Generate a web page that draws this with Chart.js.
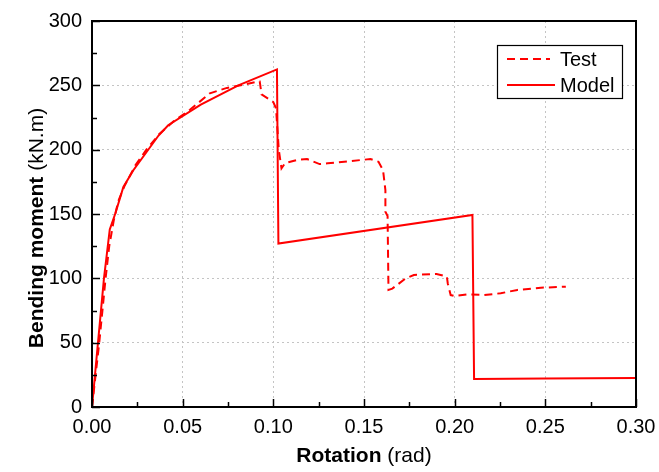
<!DOCTYPE html>
<html>
<head>
<meta charset="utf-8">
<script src="https://cdn.jsdelivr.net/npm/chart.js@4/dist/chart.umd.min.js"></script>
<style>
  html, body { margin: 0; padding: 0; background: #fff; }
  #wrap { width: 659px; height: 472px; }
</style>
</head>
<body>
<div id="wrap"><canvas id="chart" width="659" height="472"></canvas></div>
<script>
// Test curve (dashed)
const testRotation = [0, 0.004, 0.0075, 0.0095, 0.012, 0.0145, 0.018, 0.024, 0.03, 0.037, 0.045, 0.054, 0.065, 0.0744, 0.082, 0.091, 0.0925, 0.0935, 0.1, 0.1015, 0.103, 0.1045, 0.1065, 0.113, 0.1186, 0.1255, 0.13, 0.1536, 0.158, 0.1605, 0.1618, 0.1618, 0.163, 0.1635, 0.1656, 0.173, 0.1775, 0.19, 0.1957, 0.1962, 0.1978, 0.2, 0.207, 0.216, 0.2254, 0.2346, 0.2475, 0.2613];
const testMoment = [0, 50, 100, 125, 145, 160, 172, 188, 200, 212, 222, 231, 243.8, 248, 250, 252.8, 253, 243, 237, 232, 200, 185.5, 189.5, 192, 192.7, 188.8, 189.4, 192.7, 190.6, 184, 168.6, 151.8, 148.4, 91, 92, 100, 102.6, 103.4, 101.3, 96, 87, 86.3, 87.6, 87, 88.4, 91, 92.7, 93.5];

// Model curve (solid)
const modelRotation = [0, 0.0033, 0.0066, 0.0098, 0.013, 0.0173, 0.0228, 0.03, 0.0367, 0.042, 0.06, 0.0807, 0.102, 0.1028, 0.2098, 0.2107, 0.25, 0.30];
const modelMoment = [0, 50, 100, 138, 151, 171, 184, 198, 211, 219, 235, 250, 262.4, 127, 149.2, 21.7, 22.2, 22.5];

const seriesLabels = ['Test', 'Model'];
const xTitle = ['Rotation', '(rad)'];
const yTitle = ['Bending moment', '(kN.m)'];

const FONT = '"Liberation Sans", Arial, sans-serif';

function toPoints(xs, ys) {
    return xs.map((x, i) => ({ x: x, y: ys[i] }));
}

// Frame, inward ticks, mixed-weight axis titles and the boxed legend
const decorations = {
    id: 'decorations',
    afterDatasetsDraw(chart) {
        const ctx = chart.ctx;
        const area = chart.chartArea;
        const xs = chart.scales.x;
        const ys = chart.scales.y;

        ctx.save();
        ctx.strokeStyle = '#000';

        // ticks (major + minor), pointing inward
        ctx.lineWidth = 1.5;
        for (let v = 0; v <= 0.3001; v += 0.025) {
            const px = Math.round(xs.getPixelForValue(v)) + 0.5;
            const major = Math.abs(v / 0.05 - Math.round(v / 0.05)) < 1e-6;
            ctx.beginPath();
            ctx.moveTo(px, area.bottom);
            ctx.lineTo(px, area.bottom - (major ? 8 : 5));
            ctx.stroke();
        }
        for (let v = 0; v <= 300; v += 25) {
            const py = Math.round(ys.getPixelForValue(v)) + 0.5;
            const major = v % 50 === 0;
            ctx.beginPath();
            ctx.moveTo(area.left, py);
            ctx.lineTo(area.left + (major ? 8 : 5), py);
            ctx.stroke();
        }

        // frame
        ctx.lineWidth = 2;
        ctx.strokeRect(area.left, area.top, area.right - area.left, area.bottom - area.top);

        // axis titles
        ctx.fillStyle = '#000';
        ctx.textBaseline = 'alphabetic';
        function mixed(parts, cx, cy, rotate) {
            ctx.save();
            ctx.translate(cx, cy);
            if (rotate) ctx.rotate(-Math.PI / 2);
            ctx.font = 'bold 21px ' + FONT;
            const w1 = ctx.measureText(parts[0] + ' ').width;
            ctx.font = '21px ' + FONT;
            const w2 = ctx.measureText(parts[1]).width;
            let start = -(w1 + w2) / 2;
            ctx.textAlign = 'left';
            ctx.font = 'bold 21px ' + FONT;
            ctx.fillText(parts[0] + ' ', start, 0);
            ctx.font = '21px ' + FONT;
            ctx.fillText(parts[1], start + w1, 0);
            ctx.restore();
        }
        mixed(xTitle, 364, 462, false);
        mixed(yTitle, 43, 228, true);

        // legend
        ctx.fillStyle = '#fff';
        ctx.fillRect(497, 45, 126, 53);
        ctx.lineWidth = 1.2;
        ctx.strokeStyle = '#000';
        ctx.strokeRect(497.5, 45.5, 125, 53);
        const rows = [59, 85];
        chart.data.datasets.forEach((ds, i) => {
            ctx.strokeStyle = ds.borderColor;
            ctx.lineWidth = ds.borderWidth;
            ctx.setLineDash(ds.borderDash || []);
            ctx.beginPath();
            ctx.moveTo(507, rows[i]);
            ctx.lineTo(ds.borderDash ? 550 : 555, rows[i]);
            ctx.stroke();
            ctx.setLineDash([]);
            ctx.fillStyle = '#000';
            ctx.font = '20px ' + FONT;
            ctx.textAlign = 'left';
            ctx.fillText(ds.label, 560, rows[i] + 7);
        });
        ctx.restore();
    }
};

new Chart(document.getElementById('chart'), {
    type: 'line',
    data: {
        datasets: [
            {
                label: seriesLabels[0],
                data: toPoints(testRotation, testMoment),
                borderColor: '#ff0000',
                borderWidth: 2,
                borderDash: [8, 5],
                pointRadius: 0,
                tension: 0
            },
            {
                label: seriesLabels[1],
                data: toPoints(modelRotation, modelMoment),
                borderColor: '#ff0000',
                borderWidth: 2,
                pointRadius: 0,
                tension: 0
            }
        ]
    },
    options: {
        responsive: false,
        animation: false,
        layout: { padding: { top: 21, right: 23, left: 0, bottom: 0 } },
        plugins: {
            legend: { display: false },
            tooltip: { enabled: false }
        },
        scales: {
            x: {
                type: 'linear',
                min: 0,
                max: 0.3,
                afterFit(scale) {
                    scale.height = 65;
                    scale.paddingLeft = 0;
                    scale.paddingRight = 0;
                },
                ticks: {
                    stepSize: 0.05,
                    padding: 8,
                    color: '#000',
                    font: { family: FONT, size: 20 },
                    maxRotation: 0,
                    callback: v => v.toFixed(2)
                },
                grid: { color: '#c4c4c4', lineWidth: 1, drawTicks: false },
                border: { display: false, dash: [2, 3] }
            },
            y: {
                min: 0,
                max: 300,
                afterFit(scale) {
                    scale.width = 92;
                    scale.paddingTop = 0;
                    scale.paddingBottom = 0;
                },
                ticks: {
                    stepSize: 50,
                    padding: 10,
                    color: '#000',
                    font: { family: FONT, size: 20 }
                },
                grid: { color: '#c4c4c4', lineWidth: 1, drawTicks: false },
                border: { display: false, dash: [2, 3] }
            }
        }
    },
    plugins: [decorations]
});
</script>
</body>
</html>
